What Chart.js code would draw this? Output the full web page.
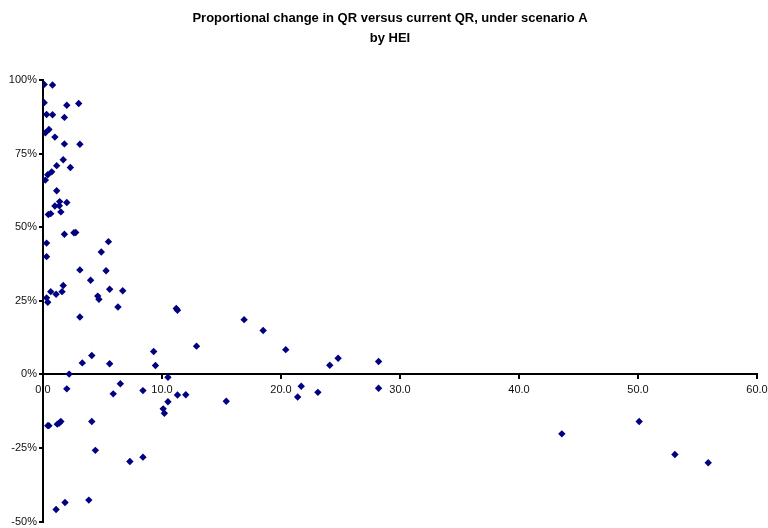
<!DOCTYPE html>
<html>
<head>
<meta charset="utf-8">
<script src="https://cdn.jsdelivr.net/npm/chart.js@4/dist/chart.umd.min.js"></script>
<style>
  html, body { margin: 0; padding: 0; background: #fff; }
  #wrap { width: 768px; height: 528px; }
</style>
</head>
<body>
<div id="wrap"><canvas id="qrChart" width="768" height="528"></canvas></div>
<script>
// current QR (x) and proportional change in % (y), one entry per HEI
const currentQR = [
  0.1, 0.8, 0.1, 2.0, 3.0, 0.3, 0.8, 1.8, 0.5, 0.2,
  1.0, 1.8, 3.1, 1.7, 2.3, 1.15, 0.73, 0.4, 0.2, 1.15,
  1.4, 2.0, 1.0, 1.37, 1.5, 0.45, 0.65, 0.3, 0.3, 1.8,
  2.6, 2.75, 3.1, 0.65, 0.3, 0.4, 1.1, 1.6, 1.7, 3.1,
  4.0, 4.9, 5.5, 5.3, 4.6, 4.7, 5.6, 6.7, 6.3, 3.3,
  4.1, 5.6, 2.2, 2.0, 6.5, 5.9, 0.4, 0.5, 1.2, 1.37,
  1.5, 4.1, 4.4, 7.3, 1.1, 1.85, 3.85, 11.2, 11.3, 16.9,
  18.5, 12.9, 20.4, 9.3, 9.45, 10.5, 8.4, 11.3, 12.0, 10.5,
  10.1, 10.2, 15.4, 21.4, 21.7, 23.1, 8.4, 24.1, 24.8, 28.2,
  28.2, 43.6, 50.1, 53.1, 55.9
];
const propChange = [
  98.5, 98.3, 92.3, 91.4, 92.0, 88.3, 88.2, 87.3, 83.2, 82.1,
  80.6, 78.3, 78.2, 72.9, 70.3, 70.9, 68.8, 67.8, 66.0, 62.4,
  58.7, 58.4, 57.2, 57.3, 55.2, 54.3, 54.6, 44.6, 40.0, 47.6,
  48.1, 48.2, 35.5, 28.1, 26.0, 24.5, 27.2, 28.1, 30.2, 19.5,
  32.0, 41.6, 45.1, 35.2, 26.6, 25.5, 28.9, 28.4, 22.9, 3.9,
  6.4, 3.6, 0.1, -4.9, -3.2, -6.6, -17.4, -17.4, -16.9, -16.5,
  -16.0, -16.0, -25.8, -29.6, -45.9, -43.5, -42.7, 22.4, 21.8, 18.6,
  14.9, 9.6, 8.4, 7.8, 3.0, -1.0, -5.5, -7.0, -6.9, -9.3,
  -11.7, -13.2, -9.1, -7.7, -4.0, -6.1, -28.1, 3.1, 5.5, 4.4,
  -4.7, -20.2, -16.0, -27.2, -30.0
];

const xTicks = [0, 10, 20, 30, 40, 50, 60];
const yTicks = [-50, -25, 0, 25, 50, 75, 100];
const titleLines = ['Proportional change in QR versus current QR, under scenario A', 'by HEI'];

const points = currentQR.map((x, i) => ({ x, y: propChange[i] }));

// the original title sits a bit right of the canvas centre, so draw it by hand
const titlePlugin = {
  id: 'hangTitle',
  afterDraw(chart) {
    const ctx = chart.ctx;
    ctx.save();
    ctx.fillStyle = '#000';
    ctx.font = 'bold 13px "Liberation Sans", Arial, sans-serif';
    ctx.textAlign = 'center';
    ctx.textBaseline = 'alphabetic';
    ctx.fillText(titleLines[0], 390, 22);
    ctx.fillText(titleLines[1], 390, 41.5);
    ctx.restore();
  }
};

new Chart(document.getElementById('qrChart'), {
  type: 'scatter',
  data: {
    datasets: [{
      label: 'HEI',
      data: points,
      pointStyle: 'rectRot',
      pointRadius: 3.7,
      pointHoverRadius: 3.7,
      backgroundColor: '#000080',
      borderColor: '#000080',
      borderWidth: 0
    }]
  },
  plugins: [titlePlugin],
  options: {
    responsive: false,
    animation: false,
    events: [],
    layout: { padding: { left: 0, right: 11, top: 80, bottom: 0 } },
    plugins: {
      legend: { display: false },
      tooltip: { enabled: false },
      title: { display: false }
    },
    scales: {
      x: {
        type: 'linear',
        position: { y: 0 },
        min: 0,
        max: 60,
        afterBuildTicks: s => { s.ticks = xTicks.map(v => ({ value: v })); },
        afterFit: s => { s.paddingLeft = 0; s.paddingRight = 0; },
        ticks: {
          color: '#111',
          font: { family: 'Liberation Sans, Arial, sans-serif', size: 11 },
          padding: 5,
          maxRotation: 0,
          callback: v => v.toFixed(1)
        },
        grid: { drawOnChartArea: false, drawTicks: true, tickLength: 4, color: '#000', lineWidth: 2 },
        border: { display: true, color: '#000', width: 2 }
      },
      y: {
        type: 'linear',
        min: -50,
        max: 100,
        afterBuildTicks: s => { s.ticks = yTicks.map(v => ({ value: v })); },
        afterFit: s => { s.width = 43; },
        ticks: {
          color: '#111',
          font: { family: 'Liberation Sans, Arial, sans-serif', size: 11, lineHeight: 0.8 },
          padding: 2,
          callback: v => v + '%'
        },
        grid: { drawOnChartArea: false, drawTicks: true, tickLength: 4, color: '#000', lineWidth: 2 },
        border: { display: true, color: '#000', width: 2 }
      }
    }
  }
});
</script>
</body>
</html>
